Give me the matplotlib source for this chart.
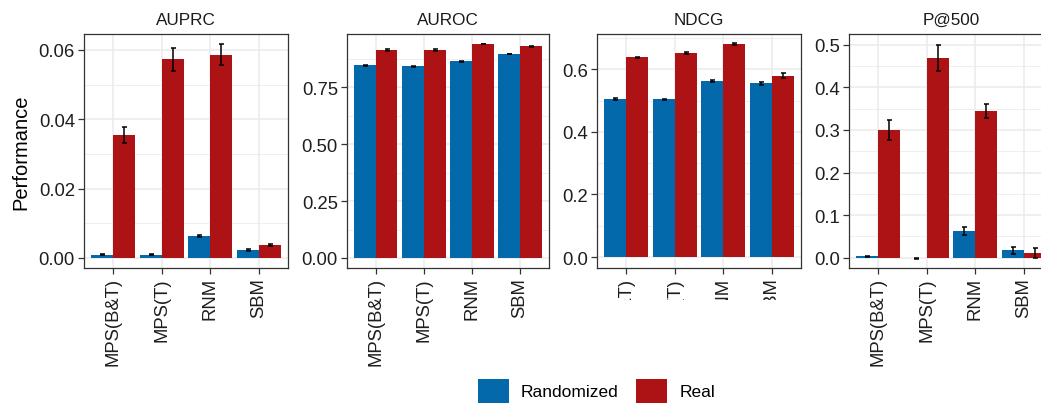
import numpy as np
import matplotlib
matplotlib.use('Agg')
import matplotlib.pyplot as plt
from matplotlib.patches import Patch
from matplotlib.transforms import Bbox

plt.rcParams['font.family'] = ['Liberation Sans', 'DejaVu Sans']

methods = ['MPS(B&T)', 'MPS(T)', 'RNM', 'SBM']
metrics = ['AUPRC', 'AUROC', 'NDCG', 'P@500']

# mean values and error half-widths, per metric
rand_mean = {
    'AUPRC': [0.0009, 0.0009, 0.0063, 0.0023],
    'AUROC': [0.847, 0.844, 0.866, 0.897],
    'NDCG': [0.505, 0.504, 0.563, 0.555],
    'P@500': [0.003, -0.001, 0.063, 0.018],
}
rand_err = {
    'AUPRC': [0.0001, 0.0001, 0.0003, 0.0002],
    'AUROC': [0.002, 0.002, 0.002, 0.002],
    'NDCG': [0.002, 0.002, 0.003, 0.005],
    'P@500': [0.002, 0.001, 0.010, 0.008],
}
real_mean = {
    'AUPRC': [0.0355, 0.0573, 0.0586, 0.00375],
    'AUROC': [0.915, 0.915, 0.941, 0.931],
    'NDCG': [0.638, 0.652, 0.680, 0.579],
    'P@500': [0.300, 0.469, 0.344, 0.011],
}
real_err = {
    'AUPRC': [0.0022, 0.0033, 0.0030, 0.0003],
    'AUROC': [0.003, 0.003, 0.002, 0.003],
    'NDCG': [0.003, 0.003, 0.003, 0.008],
    'P@500': [0.023, 0.031, 0.016, 0.012],
}
ylims = {
    'AUPRC': (-0.0029, 0.0646),
    'AUROC': (-0.044, 0.985),
    'NDCG': (-0.035, 0.713),
    'P@500': (-0.024, 0.525),
}
major = {
    'AUPRC': [0, 0.02, 0.04, 0.06],
    'AUROC': [0, 0.25, 0.5, 0.75],
    'NDCG': [0, 0.2, 0.4, 0.6],
    'P@500': [0, 0.1, 0.2, 0.3, 0.4, 0.5],
}
labels = {
    'AUPRC': ['0.00', '0.02', '0.04', '0.06'],
    'AUROC': ['0.00', '0.25', '0.50', '0.75'],
    'NDCG': ['0.0', '0.2', '0.4', '0.6'],
    'P@500': ['0.0', '0.1', '0.2', '0.3', '0.4', '0.5'],
}

blue = '#0369ab'
red = '#ad1214'
W, H = 1041, 406

fig = plt.figure(figsize=(W / 100, H / 100), dpi=100)
# panel left edges and widths in pixels
lefts = [84, 347, 597, 849]
widths = [204, 202, 204, 204]
bottom_px, top_px = 269, 35

x = np.arange(1, 5)
for i, m in enumerate(metrics):
    ax = fig.add_axes([lefts[i] / W, (H - bottom_px) / H, widths[i] / W,
                       (bottom_px - top_px) / H])
    ax.set_axisbelow(True)
    ax.bar(x - 0.225, rand_mean[m], 0.45, color=blue)
    ax.bar(x + 0.225, real_mean[m], 0.45, color=red)
    ax.errorbar(x - 0.225, rand_mean[m], yerr=rand_err[m], fmt='none',
                ecolor='black', elinewidth=1.1, capsize=1.8, capthick=1.1)
    ax.errorbar(x + 0.225, real_mean[m], yerr=real_err[m], fmt='none',
                ecolor='black', elinewidth=1.1, capsize=1.8, capthick=1.1)
    ax.set_xlim(0.4, 4.6)
    ax.set_ylim(*ylims[m])
    ax.set_yticks(major[m])
    ax.set_yticklabels(labels[m])
    mj = major[m]
    step = mj[1] - mj[0]
    ax.set_yticks([v + step / 2 for v in mj if v + step / 2 < ylims[m][1]], minor=True)
    ax.set_xticks(x)
    ax.set_xticklabels(methods, rotation=90)
    ax.grid(which='major', color='#ebebeb', linewidth=1.1)
    ax.grid(which='minor', axis='y', color='#ebebeb', linewidth=0.55)
    ax.tick_params(which='minor', length=0)
    ax.tick_params(which='major', length=4, width=0.9, color='#333333',
                   labelsize=13.3, labelcolor='#1e1e1e', pad=2.5)
    for s in ax.spines.values():
        s.set_color('#333333')
        s.set_linewidth(0.9)
    ax.set_title(m, fontsize=12.3, color='#1a1a1a', pad=7)
    if i == 0:
        ax.set_ylabel('Performance', fontsize=14.5, color='#000000', labelpad=6)
    if m == 'NDCG':
        # tick labels of this panel are mostly hidden in the original
        box = Bbox.from_extents(lefts[i] - 30, H - 301, lefts[i] + widths[i] + 30, H - bottom_px)
        for t in ax.get_xticklabels():
            t.set_clip_on(True)
            t.set_clip_box(box)

handles = [Patch(facecolor=blue), Patch(facecolor=red)]
fig.legend(handles, ['Randomized', 'Real'], loc='center', ncol=2,
           bbox_to_anchor=(0.573, 0.035), frameon=False, fontsize=12.5,
           handlelength=1.8, handleheight=1.7, handletextpad=0.7,
           columnspacing=1.0, borderpad=0)

fig.savefig('out.png', dpi=100)
